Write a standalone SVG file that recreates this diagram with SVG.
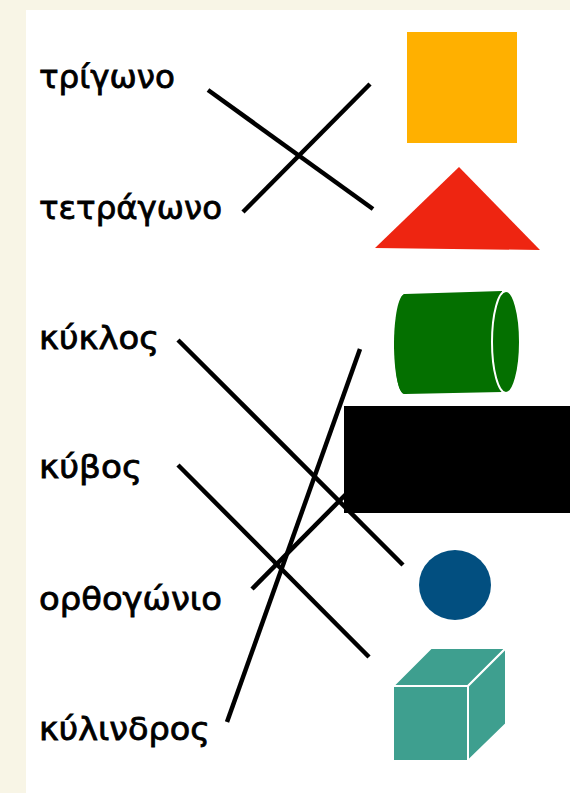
<svg xmlns="http://www.w3.org/2000/svg" width="570" height="793" viewBox="0 0 570 793">
<style>
.lbl{font-family:"DejaVu Sans","Noto Sans",sans-serif;font-size:32px;fill:#000;stroke:#000;stroke-width:0.8}
.ln{stroke:#000;stroke-width:4.5;fill:none}
</style>
<rect x="0" y="0" width="570" height="793" fill="#f8f5e6"/>
<rect x="26" y="10" width="544" height="783" fill="#fff"/>
<g id="labels">
<g id="t-trigono"><text class="lbl" x="39" y="88" textLength="136" lengthAdjust="spacingAndGlyphs">τρίγωνο</text></g>
<g id="t-tetragono"><text class="lbl" x="39" y="219" textLength="183" lengthAdjust="spacingAndGlyphs">τετράγωνο</text></g>
<g id="t-kyklos"><text class="lbl" x="39" y="349" textLength="120" lengthAdjust="spacingAndGlyphs">κύκλος</text></g>
<g id="t-kyvos"><text class="lbl" x="39" y="478" textLength="103" lengthAdjust="spacingAndGlyphs">κύβος</text></g>
<g id="t-orthogonio"><text class="lbl" x="39" y="610" textLength="183" lengthAdjust="spacingAndGlyphs">ορθογώνιο</text></g>
<g id="t-kylindros"><text class="lbl" x="39" y="740" textLength="171" lengthAdjust="spacingAndGlyphs">κύλινδρος</text></g>
</g>
<g id="connectors">
<line class="ln" x1="208" y1="90" x2="373" y2="209"/>
<line class="ln" x1="243" y1="212" x2="370" y2="84"/>
<line class="ln" x1="178" y1="340" x2="403" y2="565"/>
<line class="ln" x1="178" y1="465" x2="369" y2="657"/>
<line class="ln" x1="227" y1="722" x2="360" y2="349"/>
<line class="ln" x1="252" y1="589" x2="370" y2="470"/>
</g>
<g id="square"><rect x="407" y="32" width="110" height="111" fill="#ffb000"/></g>
<g id="triangle"><polygon points="459,167 375,248 540,250" fill="#ee2511"/></g>
<g id="cylinder">
<path d="M405,294 L502,291 L502,392 L405,394 C390,394 394,294 405,294 Z" fill="#047000"/>
<path d="M405,294 C398,294 394,320 394,344 C394,370 398,394 405,394 Z" fill="#047000"/>
<ellipse cx="506" cy="342" rx="14" ry="51" fill="#047000" stroke="#fff" stroke-width="2"/>
</g>
<g id="rectangle"><rect x="344" y="406" width="226" height="107" fill="#000"/></g>
<g id="circle"><ellipse cx="455" cy="585" rx="36" ry="35" fill="#024f80"/></g>
<g id="cube" fill="#3e9f8f" stroke="#fff" stroke-width="2" stroke-linejoin="round">
<polygon points="393,686 431,648 506,648 468,686"/>
<polygon points="468,686 506,648 506,724 468,761"/>
<rect x="393" y="686" width="75" height="75"/>
</g>
</svg>
